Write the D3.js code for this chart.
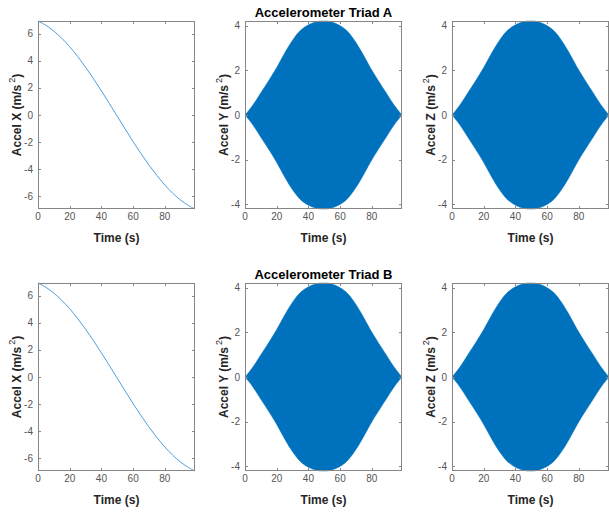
<!DOCTYPE html>
<html>
<head>
<meta charset="utf-8">
<script src="https://cdn.jsdelivr.net/npm/d3@7"></script>
<style>
html,body{margin:0;padding:0;background:#fff;}
svg{display:block;}
text{font-family:"Liberation Sans",Arial,Helvetica,sans-serif;}
</style>
</head>
<body>
<svg id="chart" width="609" height="512"></svg>
<script>
// ---- data ----
const timeX = [0,5,10,15,20,25,30,35,40,45,50,55,60,65,70,75,80,85,90,95,99];
const accelX = [6.94,6.62,6.19,5.66,5.04,4.32,3.53,2.68,1.78,0.85,-0.10,-1.04,-1.97,-2.86,-3.70,-4.47,-5.17,-5.78,-6.29,-6.69,-6.94];

const timeEnv = [0,2,5,10,15,20,25,30,35,40,45,49.5,54,59,64,69,74,79,84,89,94,97,99];
const envYZ = [0,0.17,0.45,1.0,1.55,2.13,2.78,3.36,3.80,4.05,4.19,4.22,4.19,4.05,3.80,3.36,2.78,2.13,1.55,1.0,0.45,0.17,0];

const xTicks = [0,20,40,60,80];
const yTicksX = [-6,-4,-2,0,2,4,6];
const yTicksYZ = [-4,-2,0,2,4];
const xDomain = [0,99];
const yDomainX = [-6.94,6.94];
const yDomainYZ = [-4.22,4.22];

const titles = ["Accelerometer Triad A","Accelerometer Triad B"];
const axisNames = ["X","Y","Z"];
const xLabel = "Time (s)";

// ---- layout ----
const colX = [38,245,452];
const rowY = [21,283];
const W = 157, H = 188;
const tickLen = 3;
const axisColor = "#868686";
const tickTextColor = "#555555";
const blue = "#0072BD";
const lineBlue = "#4f9fdb";

const svg = d3.select("#chart");

rowY.forEach((y0, r) => {
  colX.forEach((x0, c) => {
    const g = svg.append("g").attr("transform", `translate(${x0},${y0})`);
    const x = d3.scaleLinear().domain(xDomain).range([0, W]);
    const isX = c === 0;
    const y = d3.scaleLinear().domain(isX ? yDomainX : yDomainYZ).range([H, 0]);
    const yt = isX ? yTicksX : yTicksYZ;

    // data marks
    if (isX) {
      const line = d3.line().x((d,i)=>x(timeX[i])).y(d=>y(d)).curve(d3.curveCatmullRom);
      g.append("path").datum(accelX).attr("d", line)
        .attr("fill","none").attr("stroke", lineBlue).attr("stroke-width",1);
    } else {
      const area = d3.area().x((d,i)=>x(timeEnv[i])).y0(d=>y(-d)).y1(d=>y(d)).curve(d3.curveCatmullRom);
      g.append("path").datum(envYZ).attr("d", area).attr("fill", blue).attr("stroke", blue).attr("stroke-width",0.5);
    }

    // box
    g.append("rect").attr("x",0.5).attr("y",0.5).attr("width",W-1).attr("height",H-1)
      .attr("fill","none").attr("stroke",axisColor).attr("stroke-width",1);

    // x ticks (bottom & top, inward)
    xTicks.forEach(t => {
      const px = Math.round(x(t)) + 0.5;
      g.append("line").attr("x1",px).attr("x2",px).attr("y1",H).attr("y2",H-tickLen).attr("stroke",axisColor);
      g.append("line").attr("x1",px).attr("x2",px).attr("y1",0).attr("y2",tickLen).attr("stroke",axisColor);
      g.append("text").attr("x", x(t)).attr("y", H+11).attr("text-anchor","middle")
        .attr("font-size",10).attr("fill",tickTextColor).text(t);
    });
    // y ticks (left & right, inward)
    yt.forEach(t => {
      const py = Math.round(y(t)) + 0.5;
      g.append("line").attr("x1",0).attr("x2",tickLen).attr("y1",py).attr("y2",py).attr("stroke",axisColor);
      g.append("line").attr("x1",W).attr("x2",W-tickLen).attr("y1",py).attr("y2",py).attr("stroke",axisColor);
      g.append("text").attr("x", -5).attr("y", y(t)).attr("dy","0.35em").attr("text-anchor","end")
        .attr("font-size",10).attr("fill",tickTextColor).text(t === 0 ? "0" : (t < 0 ? "-" + Math.abs(t) : t));
    });

    // x label
    g.append("text").attr("x", W/2).attr("y", H+33).attr("text-anchor","middle")
      .attr("font-size",12).attr("font-weight","bold").attr("fill","#262626").text(xLabel);

    // y label
    const yl = g.append("text").attr("transform", `translate(-17,${H/2}) rotate(-90)`)
      .attr("text-anchor","middle").attr("font-size",12).attr("font-weight","bold").attr("fill","#262626");
    yl.append("tspan").text(`Accel ${axisNames[c]} (m/s`);
    yl.append("tspan").attr("font-size",9).attr("font-weight","normal").attr("dy",-6).attr("dx",2).text("2");
    yl.append("tspan").attr("dy",6).text(")");

    // title
    if (c === 1) {
      g.append("text").attr("x", W/2).attr("y", -4.5).attr("text-anchor","middle")
        .attr("font-size",13).attr("font-weight","bold").attr("fill","#000").text(titles[r]);
    }
  });
});
</script>
</body>
</html>
